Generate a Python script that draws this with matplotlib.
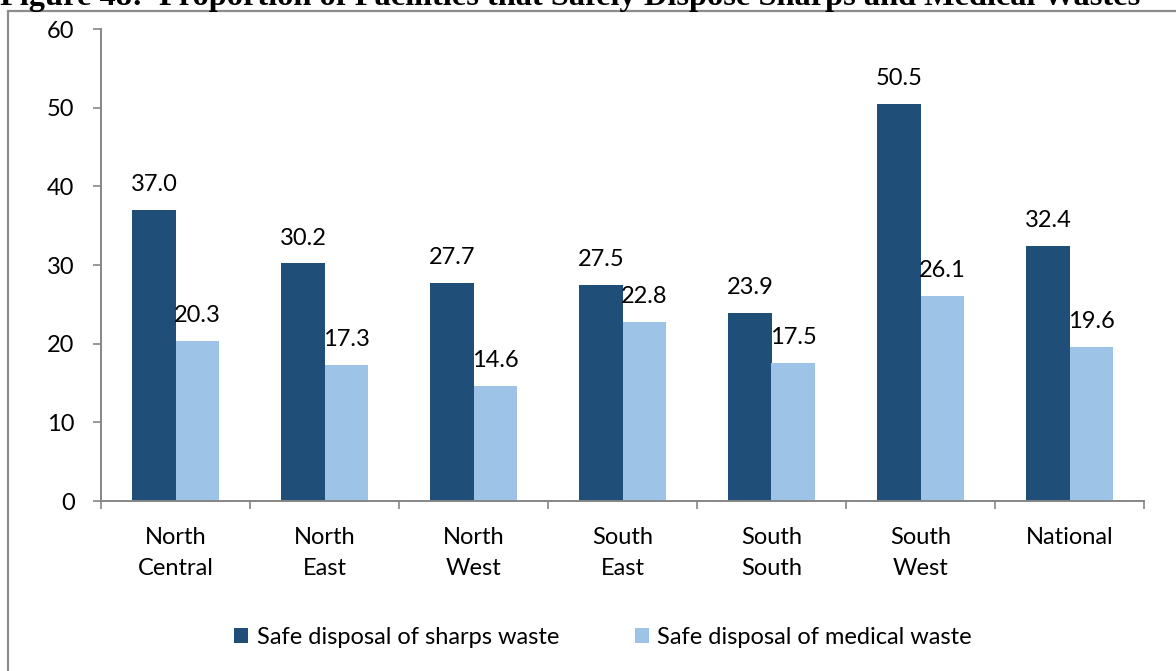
import matplotlib.pyplot as plt
import numpy as np
from matplotlib.patches import Rectangle

regions = ["North\nCentral", "North\nEast", "North\nWest", "South\nEast",
           "South\nSouth", "South\nWest", "National"]
sharps = [37.0, 30.2, 27.7, 27.5, 23.9, 50.5, 32.4]
medical = [20.3, 17.3, 14.6, 22.8, 17.5, 26.1, 19.6]

dark = "#1F4E79"
light = "#9DC3E6"
axis_grey = "#868686"
fs = 17

plt.rcParams["font.family"] = ["Lato", "DejaVu Sans"]

W, H = 1176, 671
fig = plt.figure(figsize=(W / 100, H / 100), dpi=100)
ax = fig.add_axes([101 / W, 1 - 501 / H, 1043 / W, 472 / H])

# outer frame around the chart, open at the bottom and right
fig.patches.append(Rectangle((8 / W, -0.05), 1.2, 1 - 11 / H + 0.05,
                             transform=fig.transFigure, fill=False,
                             edgecolor="#8c8c8c", linewidth=1.6))

fig.text(0.0, 1 - 5 / H,
         "Figure 48:  Proportion of Facilities that Safely Dispose Sharps and Medical Wastes",
         family=["Liberation Serif"], weight="bold", fontsize=23.3,
         ha="left", va="baseline")

x = np.arange(len(regions))
w = 0.29
b1 = ax.bar(x - w / 2, sharps, w, color=dark, label="Safe disposal of sharps waste")
b2 = ax.bar(x + w / 2, medical, w, color=light, label="Safe disposal of medical waste")

for bars, vals in ((b1, sharps), (b2, medical)):
    for r, v in zip(bars, vals):
        ax.text(r.get_x() + r.get_width() / 2, v + 2.4, f"{v:.1f}",
                ha="center", va="baseline", fontsize=fs)

ax.set_xlim(-0.5, len(regions) - 0.5)
ax.set_ylim(0, 60)
ax.set_yticks(range(0, 61, 10))
ax.set_xticks(x)
ax.set_xticklabels(regions, fontsize=fs, linespacing=1.55)
ax.set_xticks(np.arange(-0.5, len(regions)), minor=True)
ax.tick_params(axis="x", which="major", length=0, pad=19)
ax.tick_params(axis="x", which="minor", length=6, width=1.2,
               color=axis_grey, direction="out")
ax.tick_params(axis="y", length=6, width=1.2, color=axis_grey,
               labelsize=fs, pad=13)

for side in ("top", "right"):
    ax.spines[side].set_visible(False)
for side in ("left", "bottom"):
    ax.spines[side].set_color(axis_grey)
    ax.spines[side].set_linewidth(1.4)

fig.legend(loc="center", bbox_to_anchor=(603 / W, 1 - 637 / H), ncol=2,
           frameon=False, fontsize=fs, handlelength=0.6, handleheight=0.6,
           columnspacing=3.2, handletextpad=0.35)

fig.savefig("out.png", dpi=100)
